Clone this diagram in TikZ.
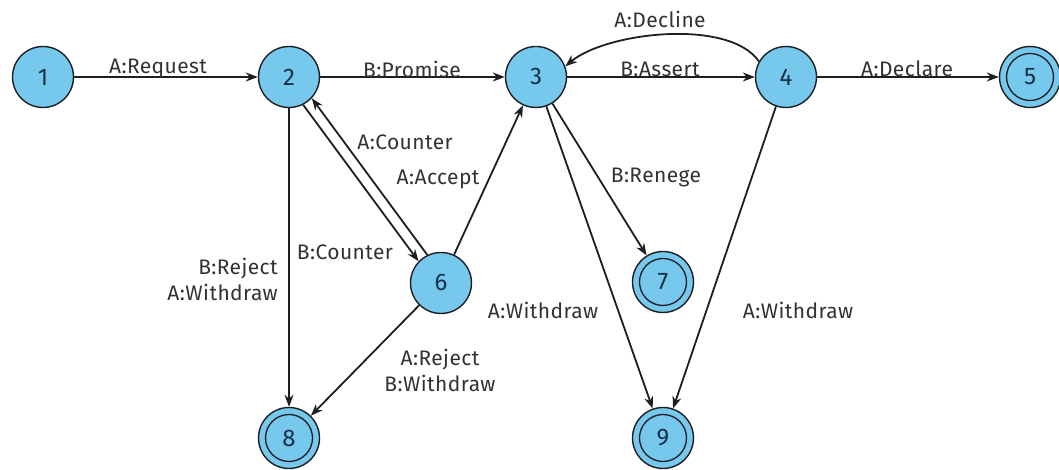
\documentclass[tikz,border=0pt]{standalone}
\usepackage{fontspec}
\setmainfont{Fira Sans}[LetterSpace=2]
\usetikzlibrary{arrows.meta}
\definecolor{statefill}{RGB}{118,200,236}
\definecolor{ink}{RGB}{28,30,34}
\definecolor{numink}{RGB}{22,48,72}
\definecolor{labelgray}{RGB}{50,50,50}

\begin{document}
\begin{tikzpicture}[x=1pt,y=1pt,
  state/.style={circle, draw=ink, line width=1.4pt, fill=statefill,
    minimum size=61pt, inner sep=0pt, text=numink,
    font=\fontsize{24}{24}\selectfont},
  final/.style={state, path picture={\draw[ink, line width=1.3pt]
    (path picture bounding box.center) circle (23.5pt);}},
  edge/.style={draw=ink, line width=1.8pt, -{Stealth[length=12pt,width=9pt]}},
  lbl/.style={font=\fontsize{21}{26}\selectfont, text=labelgray, inner sep=0pt}
]
\useasboundingbox (0,0) rectangle (1059,470);

% states
\node[state] (n1) at (43,393) {1};
\node[state] (n2) at (289,393) {2};
\node[state] (n3) at (536,393) {3};
\node[state] (n4) at (786,393) {4};
\node[final] (n5) at (1030,393) {5};
\node[state] (n6) at (441,187) {6};
\node[final] (n7) at (663,188) {7};
\node[final] (n8) at (289,32) {8};
\node[final] (n9) at (663,32) {9};

% transitions
\draw[edge] (n1) -- (n2);
\draw[edge] (n2) -- (n3);
\draw[edge] (n3) -- (n4);
\draw[edge] (n4) -- (n5);
\draw[edge] (n4.150) to[out=125,in=40,looseness=0.7] (n3.20);
\draw[edge] (n2.-63.6) -- (n6.136.4);
\draw[edge] (n6.116.4) -- (n2.-43.6);
\draw[edge] (n6) -- (n3);
\draw[edge] (n2) -- (n8);
\draw[edge] (n6) -- (n8);
\draw[edge] (n3) -- (n7);
\draw[edge] (n3) -- (n9);
\draw[edge] (n4) -- (n9);

% transition labels
\node[lbl] (lRequest) at (158,401) {A:Request};
\node[lbl] (lPromise) at (412,401) {B:Promise};
\node[lbl] (lAssert) at (660,401) {B:Assert};
\node[lbl] (lDeclare) at (907,401) {A:Declare};
\node[lbl] (lDecline) at (660,451) {A:Decline};
\node[lbl] (lCounterA) at (405,328) {A:Counter};
\node[lbl] (lAccept) at (438,290) {A:Accept};
\node[lbl] (lCounterB) at (345,218) {B:Counter};
\node[lbl, align=right, anchor=east] (lReject) at (278,191) {B:Reject\\A:Withdraw};
\node[lbl] (lRenege) at (656,292) {B:Renege};
\node[lbl] (lWithdrawC) at (543,160) {A:Withdraw};
\node[lbl] (lWithdrawD) at (798,160) {A:Withdraw};
\node[lbl, align=center] (lRejectA) at (440,100) {A:Reject\\B:Withdraw};
\end{tikzpicture}
\end{document}
